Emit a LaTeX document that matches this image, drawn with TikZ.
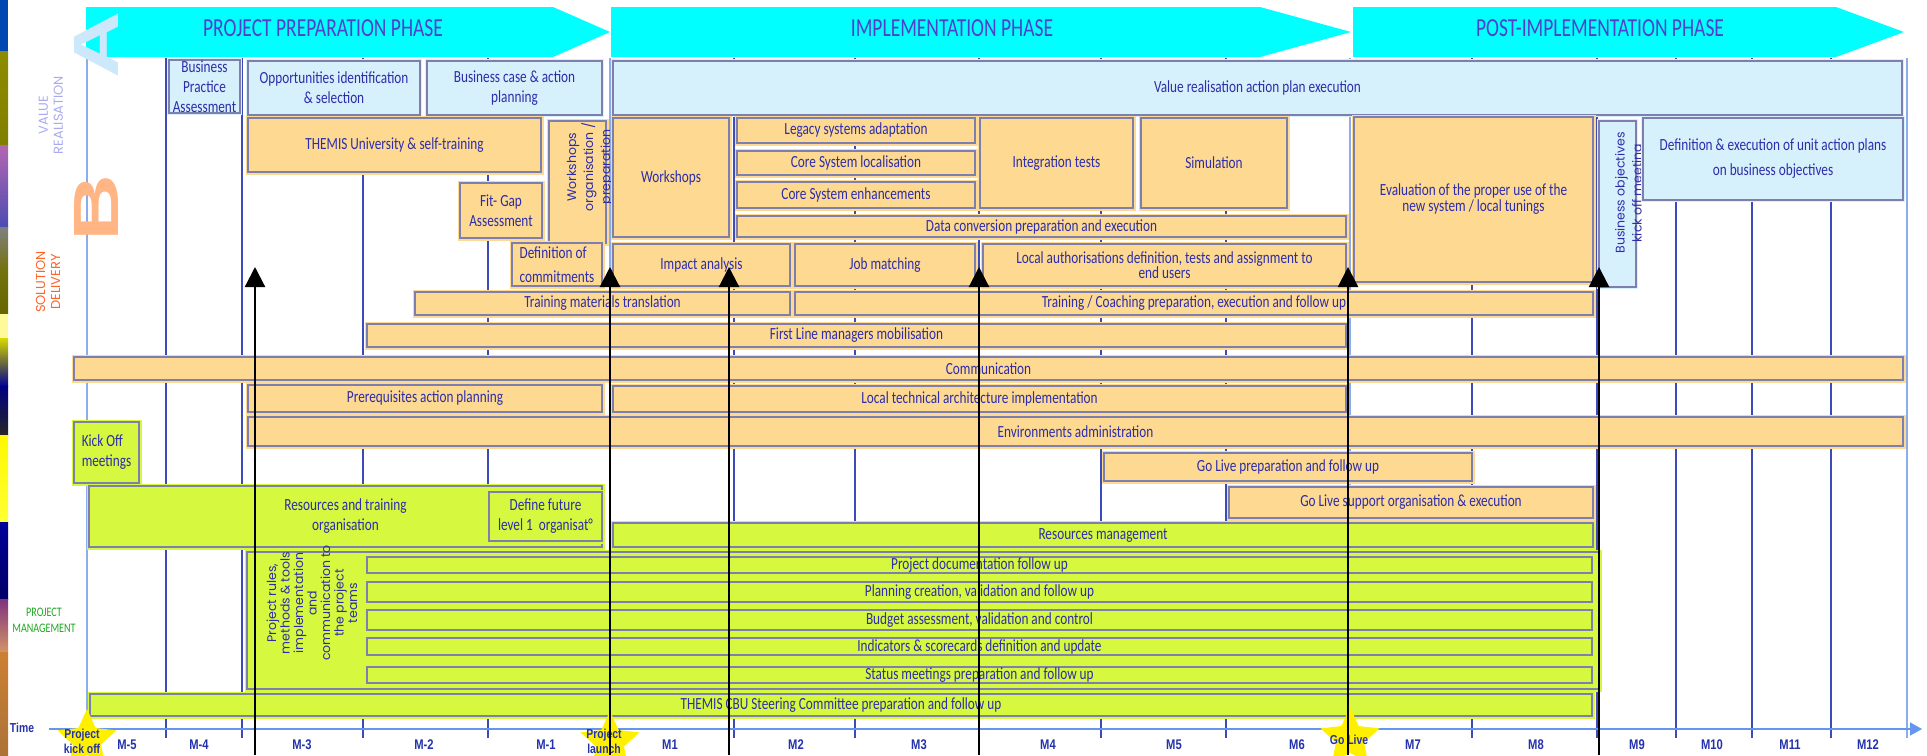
\documentclass[tikz,border=0pt]{standalone}
\usepackage{fontspec}
\setmainfont{Carlito}
\newfontfamily\comicfont{Carlito}[FakeStretch=0.78]
\newfontfamily\titlefont{Carlito}[FakeStretch=0.75]
\newfontfamily\gothfont{Poppins}
\newfontfamily\axisfont{Liberation Sans}[FakeStretch=0.8]
\newfontfamily\bigfont{Liberation Sans}[FakeStretch=1.45]
\usetikzlibrary{shapes.geometric, arrows.meta}

\definecolor{phc}{RGB}{0,255,255}
\definecolor{orfill}{RGB}{253,217,145}
\definecolor{grfill}{RGB}{214,248,62}
\definecolor{blfill}{RGB}{214,240,252}
\definecolor{bordc}{RGB}{125,128,175}
\definecolor{txtc}{RGB}{45,45,170}
\definecolor{phtxt}{RGB}{80,65,205}
\definecolor{gridc}{RGB}{60,75,185}
\definecolor{gridlc}{RGB}{140,172,238}
\definecolor{axisc}{RGB}{100,150,240}
\definecolor{mtxt}{RGB}{35,50,170}
\definecolor{vrc}{RGB}{170,170,240}
\definecolor{sdc}{RGB}{255,100,40}
\definecolor{pmc}{RGB}{30,170,30}
\definecolor{bigA}{RGB}{205,232,250}
\definecolor{bigB}{RGB}{255,182,132}
\definecolor{starc}{RGB}{255,240,0}

\newcommand{\bxfont}{\comicfont\fontsize{17}{20}\selectfont}

\begin{document}
\begin{tikzpicture}[x=1pt, y=-1pt,
	pbox/.style={draw=bordc, line width=1.2pt, inner sep=0pt, align=center, text=txtc, font=\bxfont},
	ob/.style={pbox, fill=orfill, preaction={draw=orfill, line width=5pt}},
	gb/.style={pbox, fill=grfill, preaction={draw=grfill, line width=5pt}},
	bb/.style={pbox, fill=blfill, preaction={draw=blfill, line width=4pt}},
	gline/.style={draw=gridc, line width=1.1pt},
	lline/.style={draw=gridlc, line width=1.3pt},
	phase/.style={fill=phc},
	ptitle/.style={text=phtxt, font=\titlefont\fontsize{26}{26}\selectfont},
	rot/.style={rotate=90, align=center, text=txtc, font=\gothfont\fontsize{12.5}{17}\selectfont},
	sidelab/.style={rotate=90, align=center, font=\gothfont\fontsize{13}{15}\selectfont},
	big/.style={rotate=90, font=\bigfont\bfseries\fontsize{64}{64}\selectfont},
	mlab/.style={text=mtxt, font=\axisfont\bfseries\fontsize{14}{14}\selectfont},
	slab/.style={text=mtxt, align=center, font=\axisfont\bfseries\fontsize{13}{15}\selectfont},
	milestar/.style={star, star points=5, star point ratio=2.1, fill=starc, minimum size=62pt, inner sep=0pt},
	mile/.style={line width=2.2pt, -{Triangle[width=20pt,length=20pt]}},
	tline/.style={draw=axisc, line width=1.5pt, -{Triangle[width=13pt,length=12pt]}}]
	\useasboundingbox (0,0) rectangle (1927,755);

	% left strip
	\fill[blue!60!cyan!70!black] (0,0) rectangle (8,51);
	\fill[top color=olive!90, bottom color=olive!60!gray] (0,51) rectangle (8,145);
	\fill[top color=violet!60, bottom color=blue!40!gray] (0,145) rectangle (8,227);
	\fill[top color=gray, bottom color=olive!80!black] (0,227) rectangle (8,314);
	\fill[yellow!40] (0,314) rectangle (8,338);
	\fill[top color=yellow!70!olive, bottom color=blue!60!black] (0,338) rectangle (8,386);
	\fill[top color=blue!50!black, bottom color=black!85] (0,386) rectangle (8,435);
	\fill[top color=yellow!95!orange, bottom color=yellow!80] (0,435) rectangle (8,522);
	\fill[top color=blue!60!black, bottom color=blue!40!black] (0,522) rectangle (8,599);
	\fill[top color=violet!60!gray, bottom color=brown!70!pink] (0,599) rectangle (8,652);
	\fill[top color=brown!80!orange, bottom color=brown!90!black] (0,652) rectangle (8,755);

	% phases
	\fill[phase] (86,7) -- (553,7) -- (610,32) -- (553,57) -- (86,57) -- cycle;
	\fill[phase] (611,7) -- (1260,7) -- (1351,32) -- (1260,57) -- (611,57) -- cycle;
	\fill[phase] (1353,7) -- (1836,7) -- (1904,32) -- (1836,57) -- (1353,57) -- cycle;
	\node[ptitle] (0) at (323,28) {PROJECT PREPARATION PHASE};
	\node[ptitle] (1) at (952,28) {IMPLEMENTATION PHASE};
	\node[ptitle] (2) at (1600,28) {POST-IMPLEMENTATION PHASE};

	% month grid
	\draw[gline] (166,58) -- (166,738) (242,58) -- (242,738) (363,58) -- (363,738)
		(488,58) -- (488,738) (734,58) -- (734,738) (855,58) -- (855,738)
		(979,58) -- (979,738) (1101,58) -- (1101,738) (1226,58) -- (1226,738)
		(1472,58) -- (1472,738) (1597,58) -- (1597,738) (1676,58) -- (1676,738)
		(1752,58) -- (1752,738) (1831,58) -- (1831,738);
	\draw[lline] (87,58) -- (87,738) (610,58) -- (610,738) (1350,58) -- (1350,738) (1907,58) -- (1907,738);

	% value realisation
	\node[bb, minimum width=71pt, minimum height=53pt] (3) at (204.5,86.5) {Business\\Practice\\Assessment};
	\node[bb, minimum width=172pt, minimum height=54pt] (4) at (334,88) {Opportunities identification\\\& selection};
	\node[bb, minimum width=175pt, minimum height=54pt] (5) at (514.5,88) {Business case \& action\\planning};
	\node[bb, minimum width=1289pt, minimum height=54pt] (6) at (1257.5,88) {Value realisation action plan execution};

	% solution delivery
	\node[ob, minimum width=293pt, minimum height=54pt] (7) at (394.5,145) {THEMIS University \& self-training};
	\node[ob, minimum width=82pt, minimum height=55pt] (8) at (501,210.5) {Fit- Gap\\Assessment};
	\node[ob, minimum width=57pt, minimum height=122pt] (9) at (577.5,182) {};
	\node[rot] (10) at (590,167) {Workshops\\organisation /\\preparation};
	\node[ob, minimum width=90pt, minimum height=43pt, align=left] (11) at (557,264.5) {Definition of\\[4pt]commitments};
	\node[ob, minimum width=116pt, minimum height=119pt] (12) at (671,177.5) {Workshops};
	\node[ob, minimum width=238pt, minimum height=25pt] (13) at (856,130.5) {Legacy systems adaptation};
	\node[ob, minimum width=238pt, minimum height=24pt] (14) at (856,163) {Core System localisation};
	\node[ob, minimum width=238pt, minimum height=26pt] (15) at (856,195) {Core System enhancements};
	\node[ob, minimum width=153pt, minimum height=90pt] (16) at (1056.5,163) {Integration tests};
	\node[ob, minimum width=146pt, minimum height=90pt] (17) at (1214,163) {Simulation};
	\node[ob, minimum width=239pt, minimum height=165pt] (18) at (1473.5,199.5) {Evaluation of the proper use of the\\[-4pt]new system / local tunings};
	\node[bb, minimum width=37pt, minimum height=166pt] (19) at (1617.5,204) {};
	\node[rot] (20) at (1630,193) {Business objectives\\kick off meeting};
	\node[bb, minimum width=260pt, minimum height=82pt] (21) at (1773,159) {Definition \& execution of unit action plans\\[5pt]on business objectives};
	\node[ob, minimum width=609pt, minimum height=21pt] (22) at (1041.5,226.5) {Data conversion preparation and execution};
	\node[ob, minimum width=177pt, minimum height=42pt] (23) at (701.5,265) {Impact analysis};
	\node[ob, minimum width=180pt, minimum height=42pt] (24) at (885,265) {Job matching};
	\node[ob, minimum width=363pt, minimum height=42pt] (25) at (1164.5,265) {Local authorisations definition, tests and assignment to\\[-5pt]end users};
	\node[ob, minimum width=375pt, minimum height=23pt] (26) at (602.5,303.5) {Training materials translation};
	\node[ob, minimum width=798pt, minimum height=23pt] (27) at (1194,303.5) {Training / Coaching preparation, execution and follow up};
	\node[ob, minimum width=979pt, minimum height=23pt] (28) at (856.5,335.5) {First Line managers mobilisation};
	\node[ob, minimum width=1829pt, minimum height=23pt] (29) at (988.5,368.5) {Communication};
	\node[ob, minimum width=354pt, minimum height=27pt] (30) at (425,398.5) {Prerequisites action planning};
	\node[ob, minimum width=733pt, minimum height=26pt] (31) at (979.5,399) {Local technical architecture implementation};
	\node[ob, minimum width=1655pt, minimum height=29pt] (32) at (1075.5,431.5) {Environments administration};
	\node[gb, minimum width=65pt, minimum height=61pt, align=left] (33) at (106.5,452.5) {Kick Off\\meetings};
	\node[ob, minimum width=368pt, minimum height=28pt] (34) at (1288,467) {Go Live preparation and follow up};
	\node[ob, minimum width=364pt, minimum height=31pt] (35) at (1411,502.5) {Go Live support organisation \& execution};

	% project management
	\node[gb, minimum width=513pt, minimum height=61pt] (36) at (345.5,516.5) {Resources and training\\organisation};
	\node[gb, minimum width=113pt, minimum height=49pt] (37) at (545.5,516.5) {Define future\\level 1~~organisat°};
	\node[gb, minimum width=980pt, minimum height=24pt] (38) at (1103,535) {Resources management};
	\node[gb, minimum width=1352pt, minimum height=137pt] (39) at (923,620.5) {};
	\node[rot, font=\gothfont\fontsize{12.5}{13.5}\selectfont] (40) at (312,603) {Project rules,\\methods \& tools\\implementation\\and\\communication to\\the project\\teams};
	\node[gb, minimum width=1225pt, minimum height=16pt] (41) at (979.5,565) {Project documentation follow up};
	\node[gb, minimum width=1225pt, minimum height=20pt] (42) at (979.5,592) {Planning creation, validation and follow up};
	\node[gb, minimum width=1225pt, minimum height=20pt] (43) at (979.5,620) {Budget assessment, validation and control};
	\node[gb, minimum width=1225pt, minimum height=17pt] (44) at (979.5,646.5) {Indicators \& scorecards definition and update};
	\node[gb, minimum width=1225pt, minimum height=16pt] (45) at (979.5,675) {Status meetings preparation and follow up};
	\node[gb, minimum width=1502pt, minimum height=22pt] (46) at (841,705) {THEMIS CBU Steering Committee preparation and follow up};

	% side labels
	\node[sidelab, text=vrc] (47) at (51,115) {VALUE\\REALISATION};
	\node[sidelab, text=sdc] (48) at (48,282) {SOLUTION\\DELIVERY};
	\node[text=pmc, align=center, font=\comicfont\fontsize{13}{16}\selectfont] (49) at (44,620) {PROJECT\\MANAGEMENT};
	\node[big, text=bigA] (50) at (96,45) {A};
	\node[big, text=bigB] (51) at (96,208) {B};

	% time axis
	\coordinate (t0) at (49,729);
	\coordinate (t1) at (1922,729);
	\draw[tline] (t0) -- (t1);
	\node[mlab, font=\axisfont\bfseries\fontsize{13}{13}\selectfont] (52) at (22,728) {Time};
	\node[mlab] (53) at (127,745) {M-5};
	\node[mlab] (54) at (199,745) {M-4};
	\node[mlab] (55) at (302,745) {M-3};
	\node[mlab] (56) at (424,745) {M-2};
	\node[mlab] (57) at (546,745) {M-1};
	\node[mlab] (58) at (670,745) {M1};
	\node[mlab] (59) at (796,745) {M2};
	\node[mlab] (60) at (919,745) {M3};
	\node[mlab] (61) at (1048,745) {M4};
	\node[mlab] (62) at (1174,745) {M5};
	\node[mlab] (63) at (1297,745) {M6};
	\node[mlab] (64) at (1413,745) {M7};
	\node[mlab] (65) at (1536,745) {M8};
	\node[mlab] (66) at (1637,745) {M9};
	\node[mlab] (67) at (1712,745) {M10};
	\node[mlab] (68) at (1790,745) {M11};
	\node[mlab] (69) at (1868,745) {M12};

	% milestones
	\node[milestar] (70) at (87,740) {};
	\node[milestar] (71) at (610,742) {};
	\node[milestar] (72) at (1350,738) {};
	\node[slab] (73) at (82,741) {Project\\kick off};
	\node[slab] (74) at (604,741) {Project\\launch};
	\node[slab] (75) at (1349,740) {Go Live};

	\coordinate (a1) at (255,755);
	\coordinate (b1) at (255,267);
	\coordinate (a2) at (610,755);
	\coordinate (b2) at (610,267);
	\coordinate (a3) at (729,755);
	\coordinate (b3) at (729,267);
	\coordinate (a4) at (979,755);
	\coordinate (b4) at (979,267);
	\coordinate (a5) at (1348,755);
	\coordinate (b5) at (1348,267);
	\coordinate (a6) at (1599,755);
	\coordinate (b6) at (1599,267);
	\draw[mile] (a1) -- (b1);
	\draw[mile] (a2) -- (b2);
	\draw[mile] (a3) -- (b3);
	\draw[mile] (a4) -- (b4);
	\draw[mile] (a5) -- (b5);
	\draw[mile] (a6) -- (b6);
\end{tikzpicture}
\end{document}
